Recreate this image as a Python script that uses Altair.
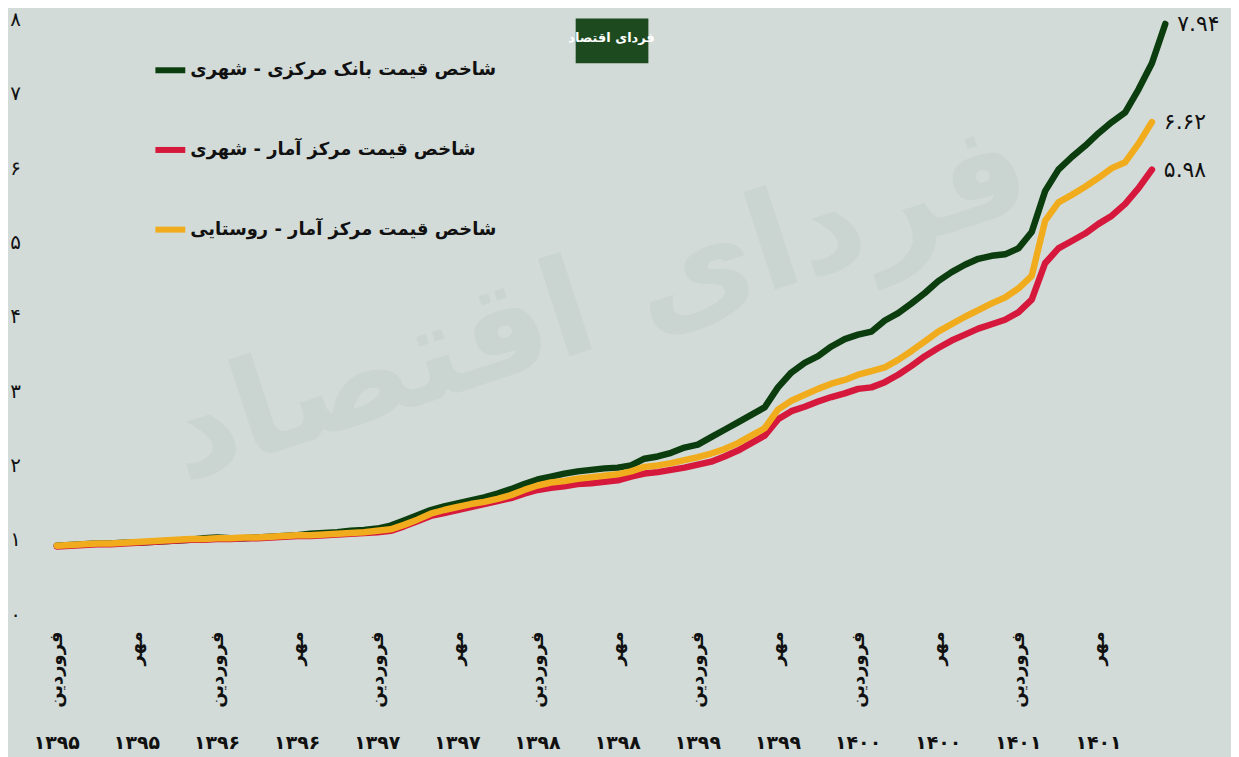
import altair as alt
import pandas as pd

# ---------------- data ----------------
# month index: 0 = Farvardin 1395 ... 83 = Esfand 1401
green = [0.92, 0.93, 0.94, 0.95, 0.95, 0.96, 0.96, 0.97, 0.98, 0.99,
         1.00, 1.02, 1.03, 1.02, 1.02, 1.03, 1.04, 1.05, 1.06, 1.08,
         1.09, 1.10, 1.12, 1.13, 1.15, 1.19, 1.26, 1.33, 1.40, 1.45,
         1.49, 1.53, 1.57, 1.62, 1.68, 1.75, 1.81, 1.85, 1.89, 1.92,
         1.94, 1.96, 1.97, 2.00, 2.09, 2.12, 2.17, 2.24, 2.28, 2.38,
         2.48, 2.58, 2.68, 2.78, 3.05, 3.25, 3.38, 3.47, 3.60, 3.70,
         3.76, 3.80, 3.95, 4.05, 4.18, 4.32, 4.48, 4.60, 4.70, 4.78,
         4.82, 4.84, 4.92, 5.14, 5.69, 5.98, 6.15, 6.30, 6.47, 6.62,
         6.75, 7.06, 7.41, 7.94]
red = [0.91, 0.92, 0.93, 0.94, 0.94, 0.95, 0.96, 0.97, 0.98, 0.99,
       1.00, 1.00, 1.01, 1.01, 1.02, 1.02, 1.03, 1.04, 1.05, 1.05,
       1.06, 1.07, 1.08, 1.09, 1.10, 1.12, 1.18, 1.25, 1.32, 1.36,
       1.40, 1.44, 1.48, 1.52, 1.56, 1.62, 1.67, 1.70, 1.72, 1.75,
       1.76, 1.78, 1.80, 1.85, 1.89, 1.91, 1.94, 1.97, 2.01, 2.05,
       2.12, 2.20, 2.30, 2.40, 2.62, 2.73, 2.79, 2.86, 2.92, 2.97,
       3.03, 3.05, 3.12, 3.22, 3.34, 3.47, 3.58, 3.68, 3.76, 3.84,
       3.90, 3.96, 4.06, 4.23, 4.72, 4.92, 5.02, 5.12, 5.25, 5.36,
       5.52, 5.73, 5.98]
yellow = [0.92, 0.93, 0.94, 0.95, 0.95, 0.96, 0.97, 0.98, 0.99, 1.00,
          1.01, 1.01, 1.02, 1.02, 1.03, 1.03, 1.04, 1.05, 1.06, 1.06,
          1.07, 1.08, 1.09, 1.10, 1.12, 1.14, 1.20, 1.27, 1.35, 1.40,
          1.44, 1.48, 1.51, 1.55, 1.60, 1.67, 1.73, 1.77, 1.79, 1.82,
          1.84, 1.86, 1.88, 1.92, 1.98, 2.00, 2.03, 2.07, 2.11, 2.16,
          2.22, 2.30, 2.40, 2.50, 2.75, 2.87, 2.95, 3.03, 3.10, 3.15,
          3.22, 3.27, 3.32, 3.42, 3.54, 3.67, 3.80, 3.90, 4.00, 4.09,
          4.18, 4.26, 4.38, 4.55, 5.29, 5.54, 5.64, 5.75, 5.87, 6.00,
          6.08, 6.33, 6.62]

series_names = ["شاخص قیمت بانک مرکزی - شهری",
                "شاخص قیمت مرکز آمار - شهری",
                "شاخص قیمت مرکز آمار - روستایی"]
series_colors = ["#0c3d0e", "#d5183b", "#f1ac1d"]
end_labels = ["۷.۹۴", "۵.۹۸", "۶.۶۲"]

tick_idx = [0, 6, 12, 18, 24, 30, 36, 42, 48, 54, 60, 66, 72, 78]
tick_years = ["۱۳۹۵", "۱۳۹۵", "۱۳۹۶", "۱۳۹۶", "۱۳۹۷", "۱۳۹۷", "۱۳۹۸",
              "۱۳۹۸", "۱۳۹۹", "۱۳۹۹", "۱۴۰۰", "۱۴۰۰", "۱۴۰۱", "۱۴۰۱"]
y_digits = ["۰", "۱", "۲", "۳", "۴", "۵", "۶", "۷", "۸"]

# ---------------- tables ----------------
rows = []
for name, vals in zip(series_names, [green, red, yellow]):
    for i, v in enumerate(vals):
        rows.append({"idx": i, "value": v, "series": name})
df = pd.DataFrame(rows)

end_df = pd.DataFrame({
    "idx": [len(green) - 1, len(red) - 1, len(yellow) - 1],
    "value": [green[-1], red[-1], yellow[-1]],
    "label": end_labels,
})
year_df = pd.DataFrame({"idx": tick_idx, "year": tick_years})

FONT = "DejaVu Sans"
W, H = 1113, 597

xscale = alt.Scale(domain=[0, 83], nice=False, zero=False)
yscale = alt.Scale(domain=[0, 8], nice=False)

digits_js = "[" + ",".join("'" + d + "'" for d in y_digits) + "]"

x_enc = alt.X("idx:Q", scale=xscale, title=None,
              axis=alt.Axis(values=tick_idx,
                            labelExpr="datum.value % 12 == 0 ? 'فروردین' : 'مهر'",
                            labelAngle=270, labelAlign="right", labelBaseline="middle",
                            labelPadding=17, ticks=False, tickSize=0, domain=False,
                            grid=False, labelFontSize=18, labelFontWeight="bold",
                            labelFont=FONT, labelColor="#111111", labelOverlap=False))
y_enc = alt.Y("value:Q", scale=yscale, title=None,
              axis=alt.Axis(values=list(range(9)), labelExpr=digits_js + "[datum.value]",
                            labelAlign="center", labelBaseline="middle", labelPadding=42,
                            ticks=False, tickSize=0, domain=False, grid=False,
                            labelFontSize=20, labelFont=FONT, labelColor="#111111"))

color_enc = alt.Color("series:N",
                      scale=alt.Scale(domain=series_names, range=series_colors),
                      legend=alt.Legend(orient="none", legendX=96, legendY=33, title=None,
                                        symbolType="stroke", symbolStrokeWidth=6,
                                        symbolSize=900, labelFontSize=18,
                                        labelFontWeight="bold", labelFont=FONT,
                                        labelColor="#111111", rowPadding=50,
                                        labelLimit=0, labelOffset=2))

dummy = pd.DataFrame({"k": [0]})

watermark = alt.Chart(dummy).mark_text(
    text="فردای اقتصاد", font=FONT, fontSize=135, fontWeight="bold",
    angle=342, color="#c5cfcb", opacity=0.55, align="center", baseline="middle"
).encode(x=alt.value(543), y=alt.value(286))

logo_box = alt.Chart(dummy).mark_rect(color="#1d4b1f").encode(
    x=alt.value(521), x2=alt.value(594), y=alt.value(-1), y2=alt.value(44))
logo_text = alt.Chart(dummy).mark_text(
    text="فردای اقتصاد", font=FONT, fontSize=13, fontWeight="bold", color="white",
    align="center", baseline="middle").encode(x=alt.value(557), y=alt.value(19))

lines = []
for name in series_names:
    lines.append(
        alt.Chart(df).transform_filter(alt.datum.series == name)
        .mark_line(strokeWidth=6.5, strokeCap="round", strokeJoin="round")
        .encode(x=x_enc, y=y_enc, color=color_enc)
    )

end_text = alt.Chart(end_df).mark_text(
    align="left", baseline="middle", dx=12, fontSize=22, font=FONT, color="#111111"
).encode(x=alt.X("idx:Q", scale=xscale), y=alt.Y("value:Q", scale=yscale), text="label:N")

year_text = alt.Chart(year_df).mark_text(
    align="center", baseline="middle", fontSize=19, fontWeight="bold", font=FONT,
    color="#111111"
).encode(x=alt.X("idx:Q", scale=xscale), y=alt.value(H + 130), text="year:N")

chart = alt.layer(watermark, logo_box, logo_text, *lines, end_text, year_text).properties(
    width=W, height=H,
    autosize=alt.AutoSizeParams(type="none"),
    padding={"left": 49, "top": 10, "right": 66, "bottom": 142},
    background="#d2dbd8",
).configure_view(stroke=None)

chart.save("out.html", embed_options={"renderer": "svg", "actions": False})
